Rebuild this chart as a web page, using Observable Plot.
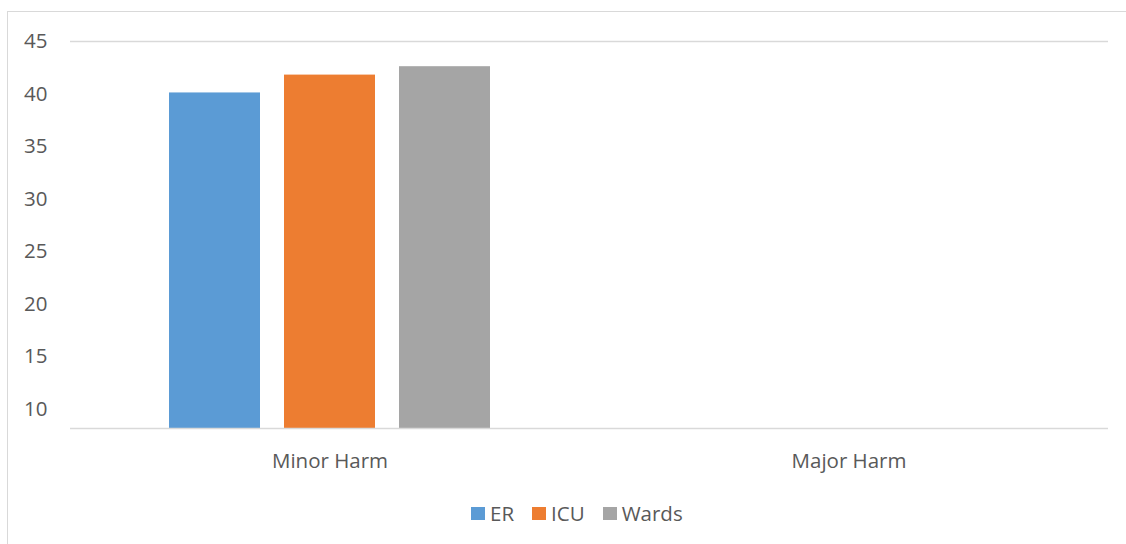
<!DOCTYPE html>
<html>
<head>
<meta charset="utf-8">
<script src="https://cdn.jsdelivr.net/npm/d3@7"></script>
<script src="https://cdn.jsdelivr.net/npm/@observablehq/plot@0.6"></script>
<style>
  html, body { margin: 0; padding: 0; background: #fff; overflow: hidden; }
  body { width: 1126px; height: 544px; position: relative; font-family: "Open Sans", sans-serif; }
  #frame { position: absolute; left: 7px; top: 11px; width: 1200px; height: 600px; border: 1.5px solid #d9d9d9; box-sizing: border-box; }
  #chart { position: absolute; left: 0; top: 0; }
  #legend { position: absolute; left: 471px; top: 499px; display: flex; align-items: center; font-size: 20.5px; color: #595959; }
  .item { display: flex; align-items: center; margin-right: 18px; }
  .swatch { width: 14px; height: 13px; margin-right: 5px; }
</style>
</head>
<body>
<div id="frame"></div>
<div id="chart"></div>
<div id="legend"></div>
<script>
// Harm categories along the bottom axis
const categories = ["Minor Harm", "Major Harm"];
// Hospital units, one bar each within a category
const units = ["ER", "ICU", "Wards"];
const unitColors = ["#5b9bd5", "#ed7d31", "#a5a5a5"];
// Scores for Minor Harm, in unit order
const minorHarm = [40.1, 41.8, 42.6];
// Value axis
const yMin = 8.14;
const yMax = 45;
const yTicks = [10, 15, 20, 25, 30, 35, 40, 45];

const rows = units.map((u, i) => ({category: categories[0], unit: u, value: minorHarm[i]}));

const textColor = "#595959";
const gridColor = "#d9d9d9";

const chart = Plot.plot({
  width: 1126,
  height: 500,
  marginLeft: 70,
  marginRight: 18,
  marginTop: 41,
  marginBottom: 72,
  style: {fontFamily: "'Open Sans', sans-serif", fontSize: "20.5px", color: textColor, background: "transparent", overflow: "visible"},
  fx: {domain: categories, padding: 0, label: null, axis: "bottom", tickSize: 0, tickPadding: 25},
  x: {domain: units, paddingInner: 0.209, paddingOuter: 0.861, axis: null},
  y: {domain: [yMin, yMax], ticks: yTicks, tickSize: 0, tickPadding: 23, label: null, grid: false},
  color: {domain: units, range: unitColors},
  marks: [
    // top gridline and baseline run across every category panel
    Plot.ruleY(categories, {fx: d => d, y: () => yMax, stroke: gridColor, strokeWidth: 1.5}),
    Plot.barY(rows, {fx: "category", x: "unit", y1: () => yMin, y2: "value", fill: "unit"}),
    Plot.ruleY(categories, {fx: d => d, y: () => yMin, stroke: gridColor, strokeWidth: 1.5})
  ]
});
chart.querySelectorAll("text").forEach(t => t.setAttribute("fill", textColor));
document.getElementById("chart").appendChild(chart);

// Legend below the chart
const legend = document.getElementById("legend");
units.forEach((u, i) => {
  const item = document.createElement("div");
  item.className = "item";
  const sw = document.createElement("div");
  sw.className = "swatch";
  sw.style.background = unitColors[i];
  const label = document.createElement("span");
  label.textContent = u;
  item.appendChild(sw);
  item.appendChild(label);
  legend.appendChild(item);
});
</script>
</body>
</html>
